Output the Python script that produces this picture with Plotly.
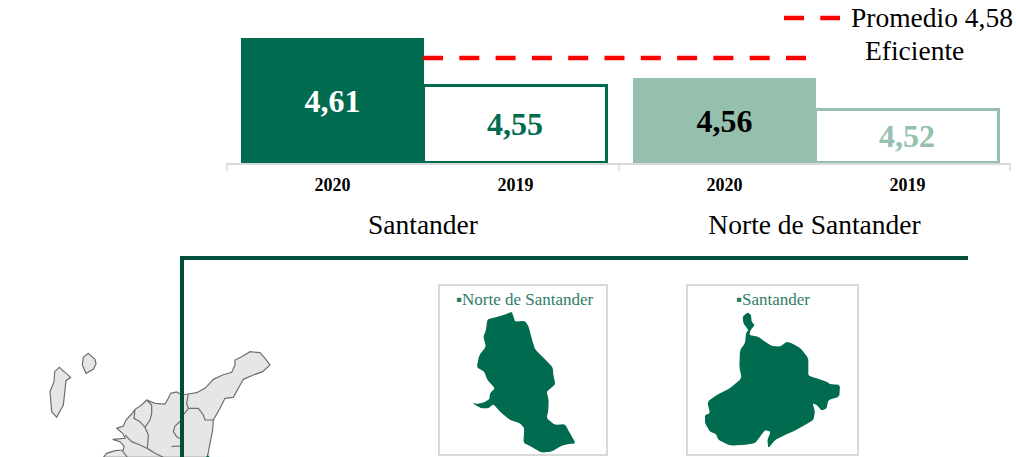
import plotly.graph_objects as go

# ---------- data ----------
regions = ["Santander", "Norte de Santander"]
years = ["2020", "2019"]
santander_values = [4.61, 4.55]
norte_values = [4.56, 4.52]
santander_labels = ["4,61", "4,55"]
norte_labels = ["4,56", "4,52"]
promedio_value = 4.585
promedio_name = "Promedio 4,58"
promedio_note = "Eficiente"

# ---------- layout constants ----------
W, H = 1016, 457
SERIF = "Liberation Serif"
DARK = "#016B50"
LIGHT = "#95C0AE"
FRAME = "#034D3B"
GREY = "#D9D9D9"
AXIS_BASE = 4.45375
AXIS_TOP = 4.6575
BASE_PX = 163
DASH = "20px,16.3px"


def fx(p):
    return p / W


def fy(p):
    return 1 - p / H


def dom(a, b):
    return [a / W, b / W]


def rng(left, right):
    return [-0.5 - left / 183, 1.5 + right / 183]


fig = go.Figure()
for vals, labs, xa, colors, textcolors in [
    (santander_values, santander_labels, "x", [DARK, "#FFFFFF"], ["#FFFFFF", DARK]),
    (norte_values, norte_labels, "x2", [LIGHT, "#FFFFFF"], ["#000000", LIGHT]),
]:
    line_col = DARK if xa == "x" else LIGHT
    fig.add_trace(go.Bar(
        x=years, y=[v - AXIS_BASE for v in vals], base=AXIS_BASE,
        xaxis=xa, yaxis="y", text=labs, textposition="inside",
        insidetextanchor="middle", textangle=0, constraintext="none",
        textfont=dict(family=SERIF, size=32, color=textcolors, weight="bold"),
        marker=dict(color=colors, line=dict(color=line_col, width=[0, 3])),
        showlegend=False, hoverinfo="skip", cliponaxis=True,
    ))

fig.add_trace(go.Scatter(
    x=[423, 806], y=[promedio_value, promedio_value], xaxis="x3", yaxis="y",
    mode="lines", name=promedio_name, showlegend=False,
    line=dict(color="#FF0000", width=4.5, dash=DASH),
    hoverinfo="skip",
))


def xaxis(domain, r, title):
    return dict(
        domain=domain, range=r, type="category", anchor="y",
        categoryorder="array", categoryarray=years,
        showgrid=False, zeroline=False, showline=True, linecolor=GREY, linewidth=1.5,
        layer="below traces", ticks="", fixedrange=True, ticklabelstandoff=5,
        tickfont=dict(family=SERIF, size=18, color="#000000", weight="bold"),
        title=dict(text=title, font=dict(family=SERIF, size=27.5, color="#000000"), standoff=20),
    )


def smooth(points, rounds=1, k=0.15):
    for _ in range(rounds):
        out = []
        n = len(points)
        for i in range(n):
            (x0, y0), (x1, y1) = points[i], points[(i + 1) % n]
            out.append(((1 - k) * x0 + k * x1, (1 - k) * y0 + k * y1))
            out.append((k * x0 + (1 - k) * x1, k * y0 + (1 - k) * y1))
        points = out
    return points


def poly(points, fill, line=None, width=0):
    path = "M" + " L".join(f"{fx(x):.5f},{fy(y):.5f}" for x, y in points) + " Z"
    return dict(type="path", xref="paper", yref="paper", path=path, fillcolor=fill,
                line=dict(color=line or fill, width=width))


def open_path(points, color, width, dash=None):
    path = "M" + " L".join(f"{fx(x):.5f},{fy(y):.5f}" for x, y in points)
    return dict(type="path", xref="paper", yref="paper", path=path,
                line=dict(color=color, width=width, dash=dash or "solid"))


def z(points, ox, oy):
    return [(ox + x / 3, oy + y / 3) for x, y in points]


norte_map = z([(245, 95), (250, 108), (255, 125), (285, 123), (296, 140), (305, 175), (315, 208), (335, 228),
               (352, 245), (368, 262), (370, 285), (376, 312), (362, 325), (350, 335), (356, 360), (355, 390),
               (350, 415), (375, 435), (405, 432), (420, 460), (437, 490), (415, 492), (395, 497), (365, 515),
               (335, 518), (300, 498), (280, 488), (283, 445), (270, 430), (240, 420), (210, 395), (190, 372),
               (175, 385), (155, 385), (140, 378), (128, 368), (140, 372), (160, 368), (178, 358), (180, 340),
               (195, 325), (172, 300), (163, 275), (140, 262), (148, 225), (168, 200), (160, 170), (168, 150),
               (172, 118), (195, 112), (222, 105)], 430, 280)
sant_map = z([(203, 97), (213, 105), (215, 125), (224, 135), (212, 150), (208, 165), (235, 170), (255, 185),
              (275, 198), (300, 200), (320, 185), (335, 190), (362, 205), (385, 235), (385, 262), (385, 287),
              (410, 295), (440, 305), (450, 312), (480, 315), (478, 350), (445, 360), (440, 385), (425, 392),
              (410, 375), (398, 370), (405, 395), (400, 420), (375, 435), (345, 452), (315, 465), (285, 480),
              (265, 505), (262, 480), (272, 455), (255, 450), (240, 470), (225, 490), (190, 495), (150, 497),
              (115, 480), (108, 462), (90, 455), (75, 430), (75, 405), (90, 400), (82, 365), (110, 345),
              (150, 325), (185, 295), (178, 260), (180, 210), (195, 190), (198, 160), (205, 150), (190, 130),
              (188, 110)], 680, 280)

MAP_GREY = "#E6E6E6"
MAP_LINE = "#6E6E6E"
isla1 = z([(58, 82), (92, 112), (78, 122), (70, 195), (50, 232), (35, 215), (30, 155), (42, 125), (44, 95)], 40, 340)
isla2 = z([(145, 40), (165, 58), (168, 72), (160, 88), (138, 100), (127, 75), (130, 52)], 40, 340)
mainland = z([(190, 352), (200, 340), (225, 332), (250, 330), (252, 318), (240, 305), (218, 298), (255, 295),
              (248, 280), (230, 265), (250, 258), (258, 240), (275, 222), (285, 208), (305, 195), (320, 180),
              (345, 190), (375, 192), (385, 175), (392, 160), (410, 156), (425, 165), (445, 162), (470, 158),
              (495, 145), (520, 118), (548, 105), (575, 97), (585, 75), (585, 60), (605, 50), (630, 35),
              (660, 38), (675, 55), (690, 75), (668, 95), (640, 105), (610, 118), (595, 145), (580, 172),
              (555, 175), (540, 205), (520, 240), (518, 270), (510, 310), (502, 352)], 40, 340)
inner = [
    [(285, 208), (282, 235), (300, 245), (315, 262), (330, 240), (335, 220), (335, 195), (320, 180)],
    [(315, 262), (325, 285), (322, 325), (345, 340), (370, 352)],
    [(255, 285), (275, 305), (300, 315), (320, 325)],
    [(445, 162), (440, 190), (445, 205), (430, 225), (425, 240), (405, 258), (400, 275), (410, 290), (425, 298)],
    [(445, 205), (475, 205), (490, 225), (495, 240), (520, 240)],
    [(395, 320), (410, 318), (425, 320)],
    [(245, 330), (262, 352)],
]

shapes = []
for pts in (isla1, isla2, mainland):
    shapes.append(poly(pts, MAP_GREY, MAP_LINE, 1.2))
for seg in inner:
    shapes.append(open_path(z(seg, 40, 340), MAP_LINE, 1.2))
shapes.append(poly(z([(497, 352), (503, 345), (510, 352)], 40, 340), DARK))
# axis end ticks
for px in (227, 619, 1010):
    shapes.append(open_path([(px, BASE_PX), (px, 171)], GREY, 1.5))
# legend key
shapes.append(open_path([(784, 18), (840, 18)], "#FF0000", 4.5, DASH))
# frame around the maps
shapes.append(open_path([(182, 457), (182, 258), (968, 258)], FRAME, 4))
# map cards
for a, b in ((439, 607), (687, 858)):
    shapes.append(dict(type="rect", xref="paper", yref="paper", x0=fx(a), x1=fx(b), y0=fy(285), y1=fy(455),
                       line=dict(color=GREY, width=2), fillcolor="#FFFFFF"))
shapes.append(poly(smooth(norte_map), DARK))
shapes.append(poly(smooth(sant_map), DARK))


def note(text, x, y, size, color, anchor="center"):
    return dict(text=text, x=fx(x), y=fy(y), xref="paper", yref="paper", showarrow=False,
                xanchor=anchor, yanchor="middle", font=dict(family=SERIF, size=size, color=color))


annotations = [
    note(promedio_name, 848.5, 18, 27.5, "#000000", "left"),
    note(promedio_note, 914, 50, 27.5, "#000000"),
    note("▪Norte de Santander", 524.5, 299, 17, "#2F7D66"),
    note("▪Santander", 773, 299, 17, "#2F7D66"),
]

fig.update_layout(
    width=W, height=H, margin=dict(l=0, r=0, t=0, b=0),
    paper_bgcolor="#FFFFFF", plot_bgcolor="rgba(0,0,0,0)",
    bargap=0,
    xaxis=xaxis(dom(227, 619), rng(14, 12), regions[0]),
    xaxis2=xaxis(dom(619, 1010), rng(14, 11), regions[1]),
    xaxis3=dict(domain=[0, 1], range=[0, W], visible=False, anchor="y", fixedrange=True),
    yaxis=dict(domain=[1 - BASE_PX / H, 1], range=[AXIS_BASE, AXIS_TOP], visible=False, fixedrange=True),
    showlegend=False,
    shapes=shapes,
    annotations=annotations,
)

fig.write_html("out.html", config=dict(displayModeBar=False),
               post_script="document.body.style.margin='0';")
